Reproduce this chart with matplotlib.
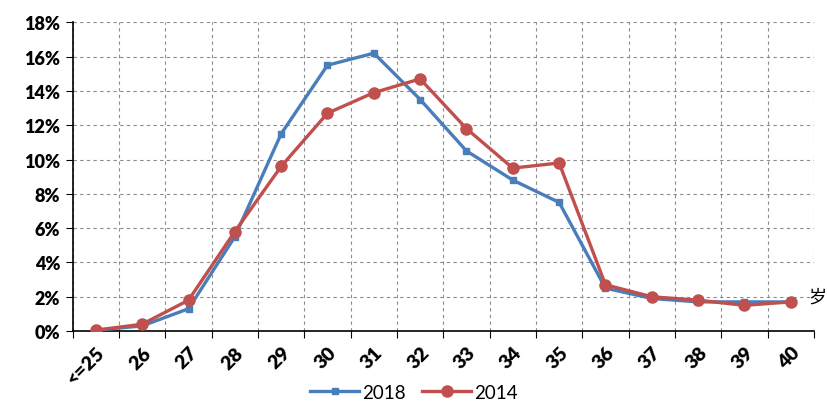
import matplotlib.pyplot as plt
from matplotlib.ticker import FuncFormatter, FixedLocator

ages = ['<=25', '26', '27', '28', '29', '30', '31', '32', '33', '34', '35', '36', '37', '38', '39', '40']
share_2018 = [0.05, 0.3, 1.3, 5.5, 11.5, 15.5, 16.2, 13.5, 10.5, 8.8, 7.5, 2.5, 1.9, 1.7, 1.7, 1.7]
share_2014 = [0.05, 0.4, 1.8, 5.8, 9.6, 12.7, 13.9, 14.7, 11.8, 9.5, 9.8, 2.7, 2.0, 1.8, 1.5, 1.7]

blue = '#4A7EBB'
red = '#C0504D'

fig = plt.figure(figsize=(8.28, 4.02), dpi=100)
ax = fig.add_axes([0.0878, 0.174, 0.8952, 0.768])

x = [i + 0.5 for i in range(len(ages))]
ax.plot(x, share_2018, color=blue, linewidth=2.4, marker='s', markersize=5, label='2018', zorder=3)
ax.plot(x, share_2014, color=red, linewidth=2.4, marker='o', markersize=8, label='2014', zorder=4)

ax.set_xlim(0, len(ages))
ax.set_ylim(0, 18)

# gridlines at category boundaries, labels at centres
ax.xaxis.set_major_locator(FixedLocator(range(len(ages) + 1)))
ax.xaxis.set_minor_locator(FixedLocator(x))
ax.set_xticklabels([], minor=False)
ax.set_xticklabels(ages, minor=True, rotation=45, ha='right', va='top',
                   rotation_mode='anchor', fontweight='heavy', fontsize=14, family='Lato')
ax.tick_params(axis='x', which='minor', length=0, pad=9)
ax.tick_params(axis='x', which='major', length=5, direction='out', color='black')

ax.set_yticks(range(0, 19, 2))
ax.yaxis.set_major_formatter(FuncFormatter(lambda v, p: f'{int(v)}%'))
ax.tick_params(axis='y', length=5, direction='out', pad=4)
for t in ax.get_yticklabels():
    t.set_fontweight('heavy')
    t.set_fontsize(13)
    t.set_family('Lato')

ax.grid(True, which='major', linestyle=(0, (3, 3)), color='#8c8c8c', linewidth=0.8)
ax.set_axisbelow(True)
for s in ['top', 'right']:
    ax.spines[s].set_visible(False)
ax.spines['left'].set_color('black')
ax.spines['bottom'].set_color('black')
ax.spines['left'].set_linewidth(1.2)
ax.spines['bottom'].set_linewidth(1.2)

ax.text(0.992, 2.0 / 18, '岁', transform=ax.transAxes, ha='left', va='center',
        fontsize=13, family=['Noto Sans CJK SC', 'DejaVu Sans'])

fig.legend(loc='center', bbox_to_anchor=(0.5, 0.022), ncol=2, frameon=False,
           prop={'family': 'Lato', 'size': 13.5}, handlelength=2.6, columnspacing=0.9,
           handletextpad=0.15)

fig.savefig('out.png', dpi=100)
